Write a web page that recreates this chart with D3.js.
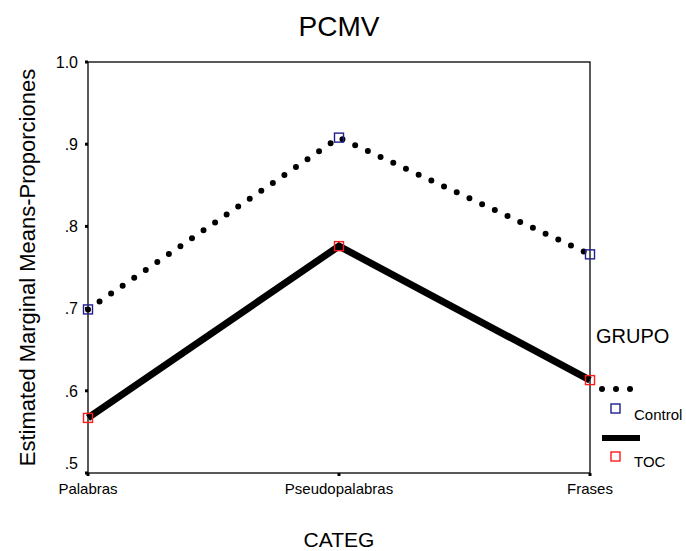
<!DOCTYPE html>
<html>
<head>
<meta charset="utf-8">
<script src="https://cdn.jsdelivr.net/npm/d3@7"></script>
<style>
  body { margin: 0; background: #fff; }
  svg text { font-family: Arial, "Liberation Sans", Helvetica, sans-serif; fill: #000; }
</style>
</head>
<body>
<svg id="chart" width="686" height="551"></svg>
<script>
// chart data
var categories = ["Palabras", "Pseudopalabras", "Frases"];
var controlValues = [0.699, 0.908, 0.766];
var tocValues = [0.567, 0.776, 0.613];
var yTicks = [0.5, 0.6, 0.7, 0.8, 0.9, 1.0];
var yTickLabels = [".5", ".6", ".7", ".8", ".9", "1.0"];
var groups = ["Control", "TOC"];

var margin = { top: 62, right: 96, bottom: 78, left: 88 },
	width  = 686 - margin.left - margin.right,
	height = 551 - margin.top - margin.bottom;

var svg = d3.select("#chart");
var g = svg.append("g")
	.attr("transform", "translate(" + margin.left + "," + margin.top + ")");

var x = d3.scalePoint().domain(categories).range([0, width]).padding(0);
var y = d3.scaleLinear().domain([0.5, 1.0]).range([height, 0]);

// frame
g.append("rect")
	.attr("x", 0).attr("y", 0)
	.attr("width", width).attr("height", height)
	.attr("fill", "none").attr("stroke", "#000").attr("stroke-width", 1.3);

// y ticks
g.selectAll(".ytick").data(yTicks).enter().append("rect")
	.attr("x", -3).attr("y", function(d){ return y(d) - 1.5; })
	.attr("width", 3).attr("height", 3).attr("fill", "#000");

g.selectAll(".ylab").data(yTicks).enter().append("text")
	.attr("x", -10)
	.attr("y", function(d, i){ return y(d) + (i == 0 ? -10 : 0); })
	.attr("dy", "0.36em")
	.attr("text-anchor", "end")
	.style("font-size", "16px")
	.text(function(d, i){ return yTickLabels[i]; });

// x ticks
g.selectAll(".xtick").data(categories).enter().append("rect")
	.attr("x", function(d){ return x(d) - 1.5; }).attr("y", height)
	.attr("width", 3).attr("height", 3).attr("fill", "#000");

g.selectAll(".xlab").data(categories).enter().append("text")
	.attr("x", function(d){ return x(d); })
	.attr("y", height + 21)
	.attr("text-anchor", "middle")
	.style("font-size", "15px")
	.text(function(d){ return d; });

// titles
svg.append("text").attr("x", margin.left + width / 2).attr("y", 36)
	.attr("text-anchor", "middle").style("font-size", "28px").text("PCMV");
svg.append("text").attr("x", margin.left + width / 2).attr("y", 547)
	.attr("text-anchor", "middle").style("font-size", "21px").text("CATEG");
svg.append("text")
	.attr("transform", "translate(35," + (margin.top + height / 2) + ") rotate(-90)")
	.attr("text-anchor", "middle").style("font-size", "22px")
	.text("Estimated Marginal Means-Proporciones");

// lines
var line = d3.line()
	.x(function(d, i){ return x(categories[i]); })
	.y(function(d){ return y(d); });

g.append("path").datum(controlValues)
	.attr("d", line).attr("fill", "none").attr("stroke", "#000")
	.attr("stroke-width", 6).attr("stroke-linecap", "round")
	.attr("stroke-dasharray", "0 14");

g.append("path").datum(tocValues)
	.attr("d", line).attr("fill", "none").attr("stroke", "#000")
	.attr("stroke-width", 7);

// markers
function markers(vals, color) {
	g.selectAll(null).data(vals).enter().append("rect")
		.attr("x", function(d, i){ return x(categories[i]) - 4.5; })
		.attr("y", function(d){ return y(d) - 4.5; })
		.attr("width", 9).attr("height", 9)
		.attr("fill", "none").attr("stroke", color).attr("stroke-width", 1.4);
}
markers(controlValues, "#1f1f8f");
markers(tocValues, "#ff1a1a");

// legend
var lg = svg.append("g").attr("transform", "translate(596,0)");
lg.append("text").attr("x", 0).attr("y", 343).style("font-size", "20px").text("GRUPO");

lg.selectAll(".ldot").data(d3.range(3)).enter().append("circle")
	.attr("cx", function(d){ return 6 + d * 14; }).attr("cy", 389).attr("r", 3).attr("fill", "#000");
lg.append("rect").attr("x", 15).attr("y", 404).attr("width", 9).attr("height", 9)
	.attr("fill", "none").attr("stroke", "#1f1f8f").attr("stroke-width", 1.4);
lg.append("text").attr("x", 38).attr("y", 420).style("font-size", "15px").text(groups[0]);

lg.append("line").attr("x1", 6).attr("x2", 44).attr("y1", 438).attr("y2", 438)
	.attr("stroke", "#000").attr("stroke-width", 6);
lg.append("rect").attr("x", 15).attr("y", 452).attr("width", 9).attr("height", 9)
	.attr("fill", "none").attr("stroke", "#ff1a1a").attr("stroke-width", 1.4);
lg.append("text").attr("x", 38).attr("y", 467).style("font-size", "15px").text(groups[1]);
</script>
</body>
</html>
